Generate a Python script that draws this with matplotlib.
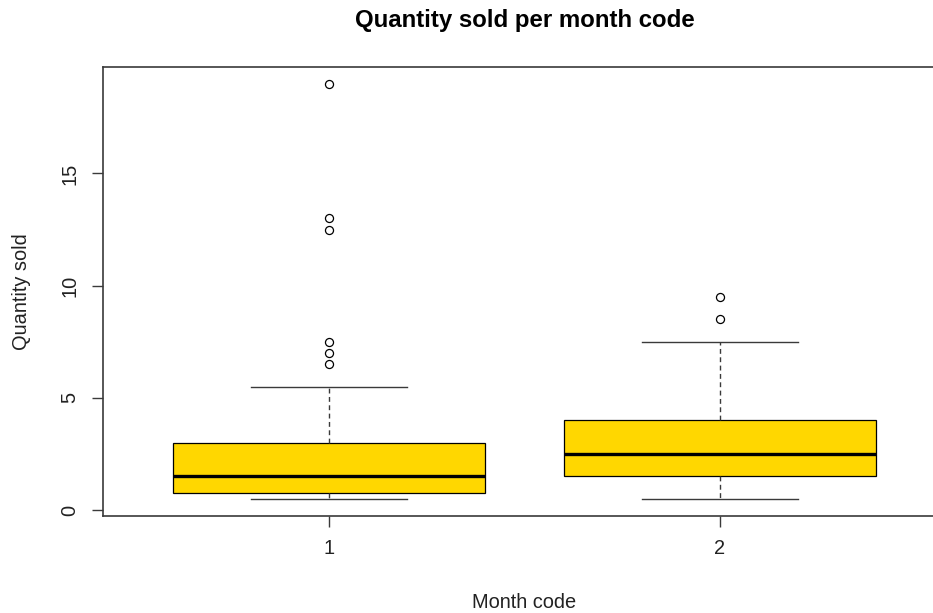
import matplotlib
matplotlib.use("Agg")
import matplotlib.pyplot as plt

plt.rcParams['font.family'] = ['Liberation Sans', 'DejaVu Sans']

# summary stats per month code (boxplot.stats style)
month_codes = [1, 2]
whisker_low = [0.5, 0.5]
q1 = [0.75, 1.5]
medians = [1.5, 2.5]
q3 = [3.0, 4.0]
whisker_high = [5.5, 7.5]
outliers = [[6.5, 7.0, 7.5, 12.5, 13.0, 19.0], [8.5, 9.5]]

box_color = '#FFD700'
line_color = '#3a3a3a'

stats = []
for i, code in enumerate(month_codes):
    stats.append({'label': str(code), 'whislo': whisker_low[i], 'q1': q1[i],
                  'med': medians[i], 'q3': q3[i], 'whishi': whisker_high[i],
                  'fliers': outliers[i]})

fig = plt.figure(figsize=(9.33, 6.13), dpi=100)
W, H = 933, 613
# plot region in pixels: left 103, right 946 (runs past the edge), top 67, bottom 515.5
ax = fig.add_axes([103 / W, (H - 515.5) / H, (946 - 103) / W, (515.5 - 67) / H])

ax.bxp(stats, positions=month_codes, widths=0.8, capwidths=0.4, patch_artist=True,
       boxprops=dict(facecolor=box_color, edgecolor='black', linewidth=0.9),
       medianprops=dict(color='black', linewidth=2.4, solid_capstyle='butt'),
       whiskerprops=dict(color=line_color, linewidth=1.0, linestyle=(0, (3.5, 2.5))),
       capprops=dict(color=line_color, linewidth=1.0),
       flierprops=dict(marker='o', markerfacecolor='none', markeredgecolor='black',
                       markersize=5.8, markeredgewidth=0.9))

ax.set_xlim(0.42, 2.58)
ax.set_ylim(-0.24, 19.74)
ax.set_yticks([0, 5, 10, 15])
ax.set_xticks(month_codes)
ax.set_xticklabels([str(c) for c in month_codes])

ax.spines['right'].set_visible(False)
for side in ['left', 'bottom', 'top']:
    ax.spines[side].set_color(line_color)
    ax.spines[side].set_linewidth(1.2)

ax.tick_params(axis='both', length=8, width=1.0, color=line_color,
               labelsize=14.4, labelcolor='#222222', pad=9)
for lab in ax.get_yticklabels():
    lab.set_rotation(90)
    lab.set_va('center')

ax.set_title('Quantity sold per month code', fontsize=17.3, fontweight='bold', pad=29)
ax.set_xlabel('Month code', fontsize=14.4, color='#222222', va='baseline')
ax.xaxis.set_label_coords(0.5, -(608 - 515.5) / (515.5 - 67))
ax.set_ylabel('Quantity sold', fontsize=14.4, color='#222222')
ax.yaxis.set_label_coords(-(103 - 31) / (946 - 103), 0.5)

fig.savefig('out.png', dpi=100)
